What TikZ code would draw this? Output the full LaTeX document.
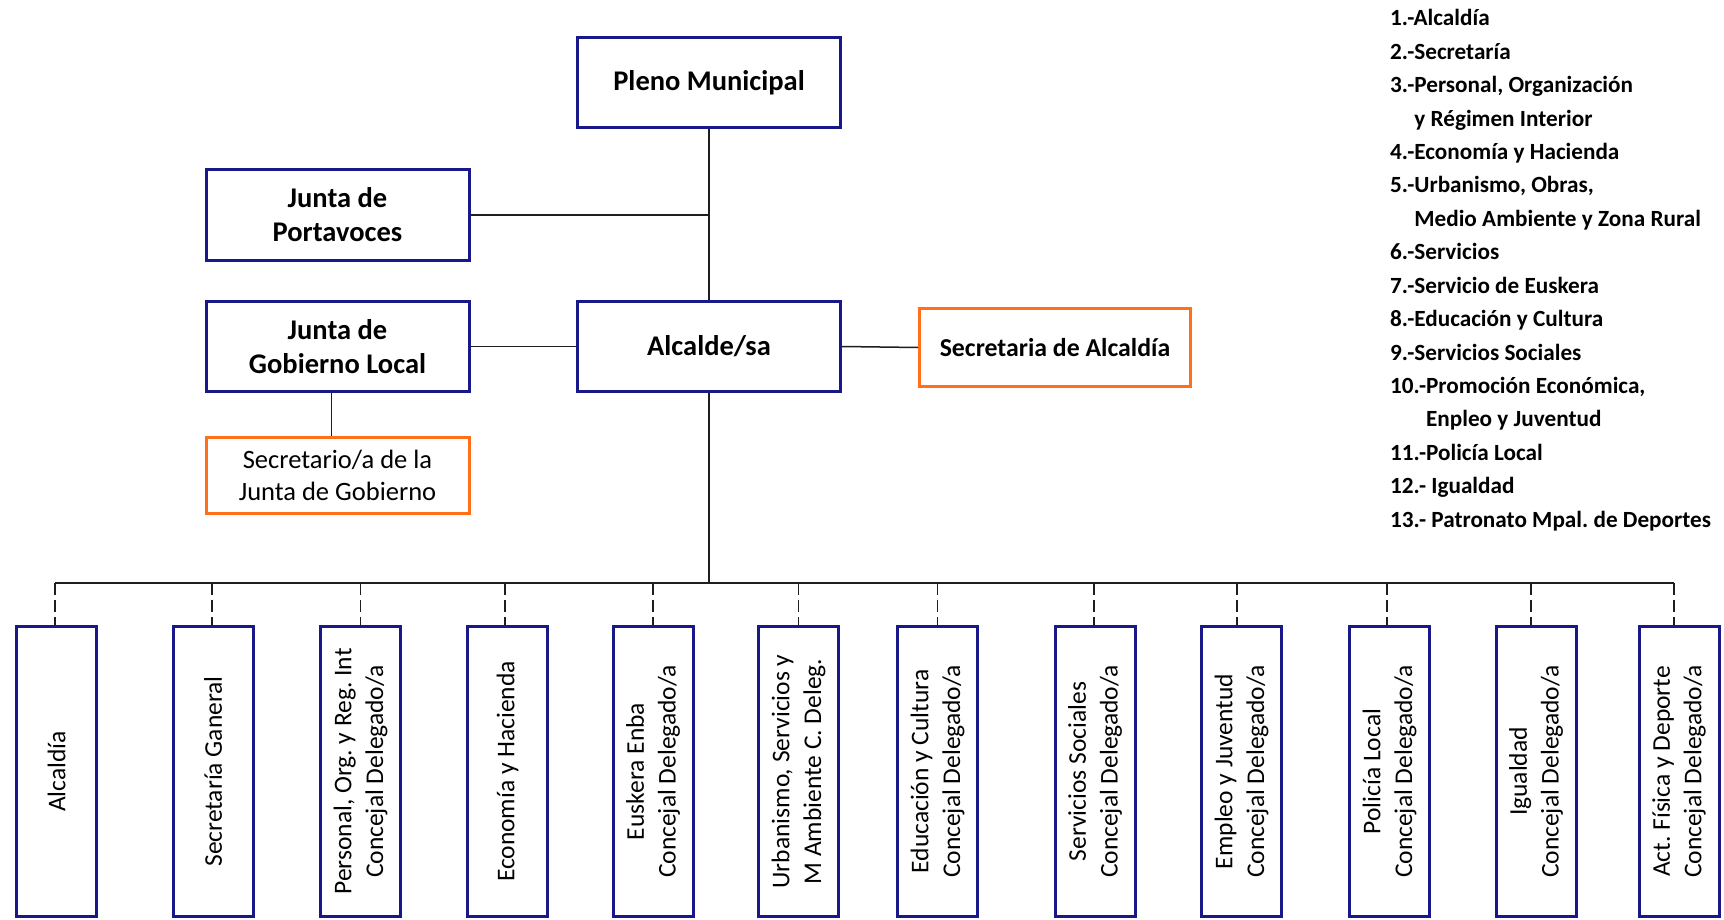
\documentclass[tikz,border=0pt]{standalone}
\usepackage{fontspec}
\setmainfont{Carlito}
\frenchspacing
\definecolor{navy}{RGB}{24,24,136}
\definecolor{orng}{RGB}{255,112,24}
\definecolor{lnk}{RGB}{30,30,30}
\begin{document}
\begin{tikzpicture}[x=1pt,y=-1pt,
  navybox/.style={draw=navy, line width=3pt, fill=white, inner sep=0pt, align=center},
  orangebox/.style={draw=orng, line width=3pt, fill=white, inner sep=0pt, align=center},
  conn/.style={draw=lnk, line width=1.5pt},
  dropline/.style={draw=lnk, line width=1.5pt, dash pattern=on 12pt off 5pt},
  topfont/.style={font=\fontsize{28.5}{34}\selectfont\bfseries},
  secfont/.style={font=\fontsize{26.5}{32}\selectfont},
  botfont/.style={font=\fontsize{25.5}{31.7}\selectfont},
  legfont/.style={font=\fontsize{23.2}{33.4}\selectfont\bfseries}]
\useasboundingbox (0,0) rectangle (1724,920);
\fill[white] (0,0) rectangle (1724,920);

% top boxes
\node[navybox, topfont, minimum width=263, minimum height=90] (pleno) at (709,82.5) {Pleno Municipal};
\node[navybox, topfont, minimum width=263, minimum height=91] (port) at (337.5,215) {Junta de\\Portavoces};
\node[navybox, topfont, minimum width=263, minimum height=90] (jgl) at (337.5,346.5) {Junta de\\Gobierno Local};
\node[navybox, topfont, minimum width=263, minimum height=90] (alc) at (709,346.5) {Alcalde/sa};
\node[orangebox, font=\fontsize{25.8}{31}\selectfont\bfseries, minimum width=271, minimum height=78] (secalc) at (1055,347.5) {Secretaria de Alcaldía};
\node[orangebox, secfont, minimum width=263, minimum height=76] (secj) at (337.5,475.5) {Secretario/a de la\\Junta de Gobierno};

% top connectors
\draw[conn] (pleno.south) -- (alc.north);
\draw[conn] (port.east) -- (port.east -| pleno.south);
\draw[conn] (jgl.east) -- (alc.west);
\draw[conn] (alc.east) -- (secalc.west);
\draw[conn] ([xshift=-6pt]jgl.south) -- ([xshift=-6pt]secj.north);

% bus
\coordinate (busL) at (55,583);
\coordinate (busR) at (1674,583);
\draw[conn] (alc.south) -- (alc.south |- busL);
\draw[conn] (busL) -- (busR);

% bottom boxes
\foreach \i/\cx/\dx/\txt in {
  1/56.5/-1.5/{Alcaldía},
  2/213/-1/{Secretaría Ganeral},
  3/360.5/0/{Personal, Org. y Reg. Int\\Concejal Delegado/a},
  4/507.5/-2.5/{Economía y Hacienda},
  5/653/0/{Euskera Enba\\Concejal Delegado/a},
  6/798.5/0/{Urbanismo, Servicios y\\M Ambiente C. Deleg.},
  7/937.5/0/{Educación y Cultura\\Concejal Delegado/a},
  8/1095/-1/{Servicios Sociales\\Concejal Delegado/a},
  9/1241.5/-4.5/{Empleo y Juventud\\Concejal Delegado/a},
  10/1389.5/-2.5/{Policía Local\\Concejal Delegado/a},
  11/1536/-5/{Igualdad\\Concejal Delegado/a},
  12/1679/-5/{Act. Física y Deporte\\Concejal Delegado/a}}{
  \node[navybox, minimum width=80, minimum height=290] (b\i) at (\cx,771.5) {};
  \node[botfont, rotate=90, align=center, inner sep=0pt] (t\i) at (b\i.center) {\txt};
  \draw[dropline] ([xshift=\dx pt]b\i.north |- busL) -- ([xshift=\dx pt]b\i.north);
}

% legend
\foreach \t [count=\i] in {
  {1.-Alcaldía},
  {2.-Secretaría},
  {3.-Personal, Organización},
  {\hphantom{3.-}y Régimen Interior},
  {4.-Economía y Hacienda},
  {5.-Urbanismo, Obras,},
  {\hphantom{5.-}Medio Ambiente y Zona Rural},
  {6.-Servicios},
  {7.-Servicio de Euskera},
  {8.-Educación y Cultura},
  {9.-Servicios Sociales},
  {10.-Promoción Económica,},
  {\hphantom{10.-}Enpleo y Juventud},
  {11.-Policía Local},
  {12.- Igualdad},
  {13.- Patronato Mpal. de Deportes}}{
  \node[legfont, anchor=base west, inner sep=0pt] (leg\i) at (1390,{26+(\i-1)*33.4}) {\t};
}
\end{tikzpicture}
\end{document}
